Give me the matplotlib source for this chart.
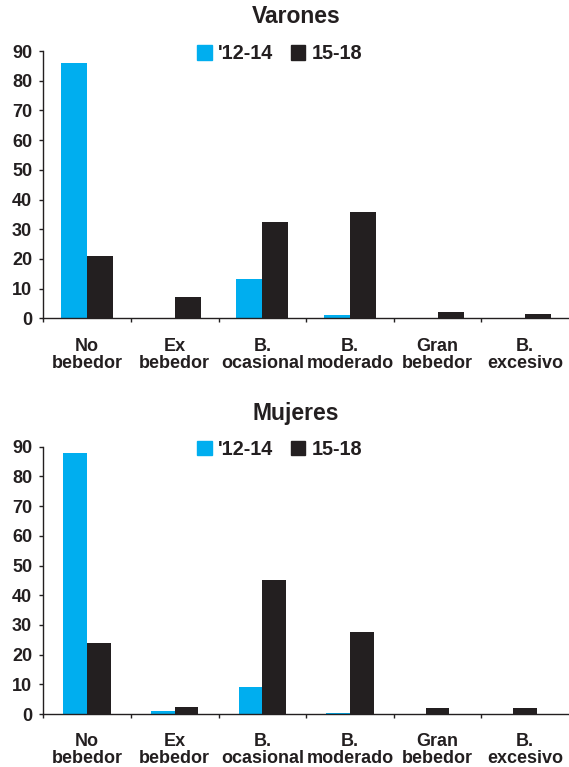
import numpy as np
import matplotlib
matplotlib.use('Agg')
import matplotlib.pyplot as plt
from matplotlib.patches import Patch

# Datos (porcentajes)
categorias = ['No\nbebedor', 'Ex\nbebedor', 'B.\nocasional', 'B.\nmoderado',
              'Gran\nbebedor', 'B.\nexcesivo']
series = ["'12-14", '15-18']

varones_12_14 = [86, 0, 13.2, 1.1, 0, 0]
varones_15_18 = [20.9, 7.2, 32.4, 35.8, 2.1, 1.4]

mujeres_12_14 = [87.9, 1.0, 9.1, 0.4, 0, 0]
mujeres_15_18 = [23.8, 2.4, 45.1, 27.6, 2.0, 2.0]

# en el panel de mujeres las dos últimas barras negras salen centradas
solo_centradas_mujeres = ['Gran\nbebedor', 'B.\nexcesivo']

AZUL = '#00aeef'
NEGRO = '#231f20'

plt.rcParams['font.family'] = ['Liberation Sans', 'DejaVu Sans']
plt.rcParams['font.weight'] = 'bold'
plt.rcParams['text.color'] = NEGRO

fig = plt.figure(figsize=(5.69, 7.67), dpi=100)

paneles = [
    ('Varones', varones_12_14, varones_15_18, [], 0.585, 0.297, 0.9785),
    ('Mujeres', mujeres_12_14, mujeres_15_18, solo_centradas_mujeres, 0.0691, 0.27, 0.4615),
]

for titulo, v1, v2, centradas, y0, ancho, y_titulo in paneles:
    ax = fig.add_axes([0.0761, y0, 0.9239, 0.3485])
    x = np.arange(len(categorias)) + 0.5
    x2 = np.array([xi if c in centradas else xi + ancho / 2
                   for xi, c in zip(x, categorias)])
    ax.bar(x - ancho / 2, v1, width=ancho, color=AZUL, linewidth=0)
    ax.bar(x2, v2, width=ancho, color=NEGRO, linewidth=0)

    ax.set_xlim(0, len(categorias))
    ax.set_ylim(0, 90)
    ax.set_yticks(range(0, 91, 10))
    ax.set_xticks(range(len(categorias)))
    ax.set_xticklabels([])
    ax.set_xticks(x, categorias, minor=True)
    ax.tick_params(axis='x', which='minor', length=0, pad=14,
                   labelsize=13, colors=NEGRO)
    ax.tick_params(axis='x', which='major', length=3, width=1, color=NEGRO)
    ax.tick_params(axis='y', length=3, width=1, pad=5, labelsize=13,
                   colors=NEGRO)
    for lab in ax.get_xticklabels(minor=True):
        lab.set_linespacing(1.0)
        lab.set_fontweight('bold')
    for lab in ax.get_yticklabels():
        lab.set_fontweight('bold')

    for lado in ['top', 'right']:
        ax.spines[lado].set_visible(False)
    for lado in ['left', 'bottom']:
        ax.spines[lado].set_color(NEGRO)
        ax.spines[lado].set_linewidth(1)
    ax.spines['left'].set_zorder(3)

    fig.text(0.52, y_titulo, titulo, ha='center', va='center',
             fontsize=16.5, fontweight='bold')

    handles = [Patch(color=AZUL), Patch(color=NEGRO)]
    ax.legend(handles, series, ncol=2, loc='center',
              bbox_to_anchor=(0.449, 0.99), bbox_transform=ax.transAxes,
              frameon=False, fontsize=14.3, handlelength=0.75,
              handleheight=0.75, handletextpad=0.3, columnspacing=0.9,
              borderaxespad=0, borderpad=0)

fig.savefig('out.png', dpi=100)
